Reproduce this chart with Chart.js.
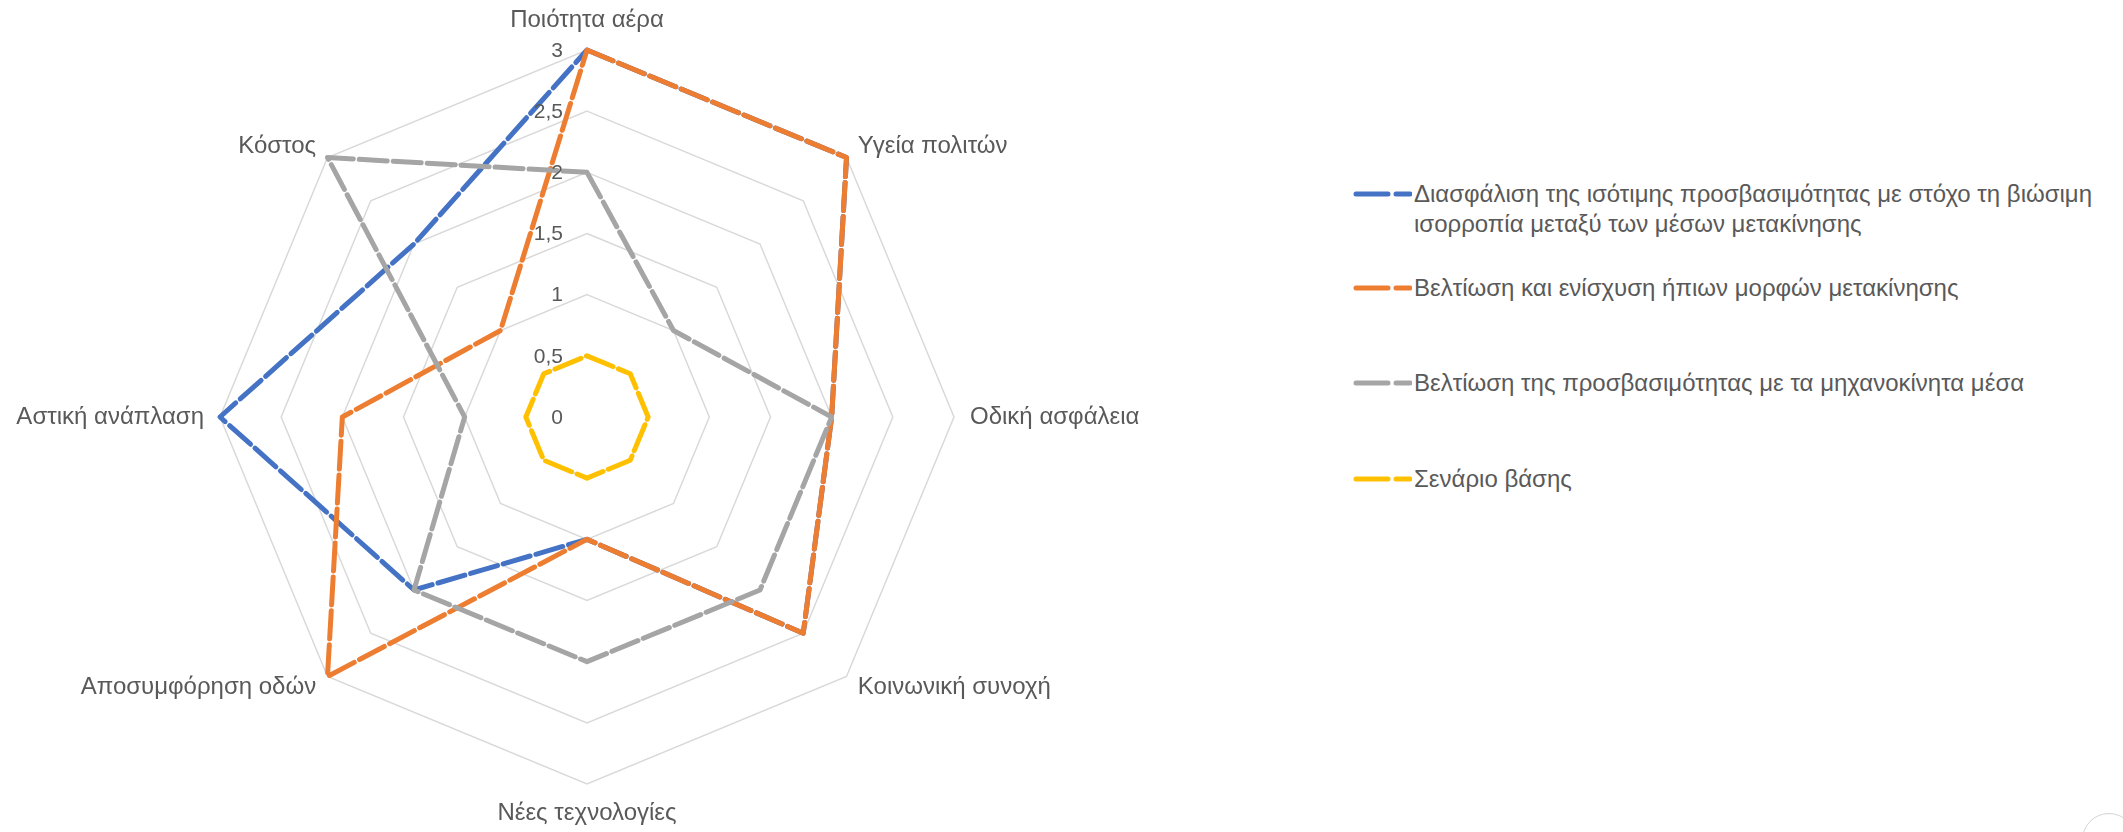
<!DOCTYPE html>
<html>
<head>
<meta charset="utf-8">
<script src="https://cdn.jsdelivr.net/npm/chart.js@4.4.1/dist/chart.umd.min.js"></script>
<style>
  html, body { margin: 0; padding: 0; background: #fff; }
  body { width: 2123px; height: 832px; position: relative; overflow: hidden; font-family: "Liberation Sans", Arial, sans-serif; }
  #wrap { position: absolute; left: 0; top: 0; width: 1174px; height: 832px; }
  #legend { position: absolute; left: 1352px; top: 0; }
  .item { position: absolute; left: 0; display: flex; align-items: flex-start; white-space: pre; }
  .item svg { flex: none; }
  .item span { font-size: 24px; line-height: 30px; color: #595959; margin-left: 2px; }
  #corner { position: absolute; left: 2082px; top: 813px; width: 52px; height: 52px; border: 1px solid #d4d4d4; border-radius: 50%; }
</style>
</head>
<body>
<div id="wrap"><canvas id="radar" width="1174" height="832"></canvas></div>
<div id="legend"></div>
<div id="corner"></div>
<script>
const categories = ['Ποιότητα αέρα', 'Υγεία πολιτών', 'Οδική ασφάλεια', 'Κοινωνική συνοχή',
                    'Νέες τεχνολογίες', 'Αποσυμφόρηση οδών', 'Αστική ανάπλαση', 'Κόστος'];

const isotimiProsvasimotita = [3, 3, 2, 2.5, 1, 2, 3, 2];
const ipiesMorfes = [3, 3, 2, 2.5, 1, 3, 2, 1];
const michanokinitaMesa = [2, 1, 2, 2, 2, 2, 1, 3];
const senarioVasis = [0.5, 0.5, 0.5, 0.5, 0.5, 0.5, 0.5, 0.5];

const seriesNames = [
  'Διασφάλιση της ισότιμης προσβασιμότητας με στόχο τη βιώσιμη\nισορροπία μεταξύ των μέσων μετακίνησης',
  'Βελτίωση και ενίσχυση ήπιων μορφών μετακίνησης',
  'Βελτίωση της προσβασιμότητας με τα μηχανοκίνητα μέσα',
  'Σενάριο βάσης'
];
const seriesColors = ['#4472C4', '#ED7D31', '#A5A5A5', '#FFC000'];

const tickValues = [0, 0.5, 1, 1.5, 2, 2.5, 3];
const tickLabels = ['0', '0,5', '1', '1,5', '2', '2,5', '3'];

const FONT = '"Liberation Sans", Arial, sans-serif';

// axis labels placed the Excel way (centred on diagonals, not hanging above them)
const axisLabelPlugin = {
  id: 'axisLabels',
  afterDraw(chart) {
    const scale = chart.scales.r;
    const ctx = chart.ctx;
    const n = chart.data.labels.length;
    ctx.save();
    ctx.font = '24px ' + FONT;
    ctx.fillStyle = '#595959';
    ctx.textBaseline = 'middle';
    chart.data.labels.forEach((lab, i) => {
      const p = scale.getPointPosition(i, scale.drawingArea + 16);
      const deg = i * 360 / n;
      let y = p.y;
      if (deg === 0 || deg === 180) {
        ctx.textAlign = 'center';
        y += deg === 0 ? -14 : 13;
      } else {
        ctx.textAlign = deg < 180 ? 'left' : 'right';
      }
      ctx.fillText(lab, p.x, y);
    });
    ctx.restore();
  }
};

// tick labels sit left of the vertical axis
const tickLabelPlugin = {
  id: 'tickLabels',
  afterDatasetsDraw(chart) {
    const scale = chart.scales.r;
    const ctx = chart.ctx;
    ctx.save();
    ctx.font = '21px ' + FONT;
    ctx.fillStyle = '#595959';
    ctx.textAlign = 'right';
    ctx.textBaseline = 'middle';
    tickValues.forEach((v, i) => {
      const y = scale.yCenter - scale.getDistanceFromCenterForValue(v);
      ctx.fillText(tickLabels[i], scale.xCenter - 24, y + 1);
    });
    ctx.restore();
  }
};

const allSeries = [isotimiProsvasimotita, ipiesMorfes, michanokinitaMesa, senarioVasis];

const ctx = document.getElementById('radar').getContext('2d');
const chart = new Chart(ctx, {
  type: 'radar',
  data: {
    labels: categories,
    datasets: allSeries.map((d, i) => ({
      label: seriesNames[i],
      data: d,
      borderColor: seriesColors[i],
      backgroundColor: seriesColors[i],
      borderWidth: 5,
      borderDash: [28, 6],
      borderCapStyle: 'round',
      borderJoinStyle: 'round',
      pointRadius: 0,
      pointHoverRadius: 0,
      fill: false,
      tension: 0,
      order: allSeries.length - i // later series on top
    }))
  },
  options: {
    responsive: false,
    animation: false,
    layout: { padding: { top: 50, bottom: 48, left: 0, right: 0 } },
    plugins: {
      legend: { display: false },
      tooltip: { enabled: false }
    },
    scales: {
      r: {
        min: 0,
        max: 3,
        beginAtZero: true,
        ticks: { display: false, stepSize: 0.5 },
        grid: { color: '#D9D9D9', lineWidth: 1.5 },
        angleLines: { display: false },
        pointLabels: { display: false }
      }
    }
  },
  plugins: [tickLabelPlugin, axisLabelPlugin]
});

// legend on the right
const legendTops = [179, 273, 368, 464];
const legend = document.getElementById('legend');
seriesNames.forEach((name, i) => {
  const item = document.createElement('div');
  item.className = 'item';
  item.style.top = legendTops[i] + 'px';
  item.innerHTML =
    '<svg width="60" height="30"><line x1="4" y1="15" x2="58" y2="15" stroke="' + seriesColors[i] +
    '" stroke-width="5" stroke-linecap="round" stroke-dasharray="32 8"/></svg>';
  const span = document.createElement('span');
  span.textContent = name;
  item.appendChild(span);
  legend.appendChild(item);
});
</script>
</body>
</html>
